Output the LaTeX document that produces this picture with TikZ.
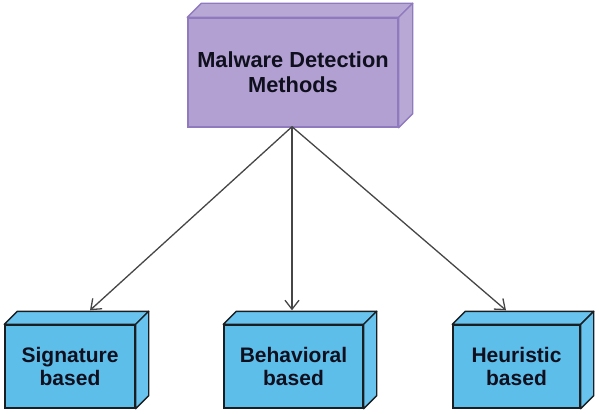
\documentclass[tikz,border=0pt]{standalone}
\usepackage{fontspec}
\setmainfont{Liberation Sans}
\usetikzlibrary{arrows.meta,calc}
\definecolor{pfill}{RGB}{177,160,209}
\definecolor{ptop}{RGB}{184,168,214}
\definecolor{pdraw}{RGB}{143,122,190}
\definecolor{bfill}{RGB}{94,190,234}
\definecolor{btop}{RGB}{104,196,238}
\definecolor{bdraw}{RGB}{25,30,35}
\definecolor{arr}{RGB}{70,70,70}
\definecolor{txt}{RGB}{15,15,30}
\begin{document}
\begin{tikzpicture}[x=1pt,y=1pt,
  purplebox/.style={draw=pdraw,fill=pfill,line width=1.4pt,minimum width=210pt,minimum height=109pt,inner sep=0pt,
    align=center,font=\fontsize{21.8}{25}\selectfont\bfseries,text=txt},
  bluebox/.style={draw=bdraw,fill=bfill,line width=1.4pt,minimum height=83pt,inner sep=0pt,
    align=center,font=\fontsize{21}{23}\selectfont\bfseries,text=txt},
  pface/.style={draw=pdraw,fill=ptop,line width=1.4pt,line join=round},
  bface/.style={draw=bdraw,fill=btop,line width=1.4pt,line join=round},
  link/.style={draw=arr,line width=1.3pt,-{Straight Barb[length=9pt,width=14pt,line width=1.3pt]}}]
\useasboundingbox (0,0) rectangle (599,413);
% top box
\node[purplebox] (top) at (293,340.5) {Malware Detection\\Methods};
\draw[pface] (top.north west) -- ++(14,14) -- ($(top.north east)+(14,14)$) -- (top.north east) -- cycle;
\draw[pface] (top.north east) -- ++(14,14) -- ($(top.south east)+(14,14)$) -- (top.south east) -- cycle;
% bottom boxes
\node[bluebox,minimum width=130pt] (sig) at (70,46.5) {Signature\\based};
\node[bluebox,minimum width=139pt] (beh) at (293.5,46.5) {Behavioral\\based};
\node[bluebox,minimum width=127pt] (heu) at (516.5,46.5) {Heuristic\\based};
\foreach \b in {sig,beh,heu}{
  \draw[bface] (\b.north west) -- ++(13,13) -- ($(\b.north east)+(13,13)$) -- (\b.north east) -- cycle;
  \draw[bface] (\b.north east) -- ++(13,13) -- ($(\b.south east)+(13,13)$) -- (\b.south east) -- cycle;
}
% arrow targets on the back edge of the top faces
\coordinate (tsig) at ($(sig.north)+(20,14)$);
\coordinate (tbeh) at ($(beh.north)+(-1.5,14)$);
\coordinate (theu) at ($(heu.north)+(-10.5,14)$);
\coordinate (src) at ($(top.south)+(-1,1)$);
\draw[link] (src) -- (tsig);
\draw[link] (src) -- (tbeh);
\draw[link] (src) -- (theu);
\end{tikzpicture}
\end{document}
